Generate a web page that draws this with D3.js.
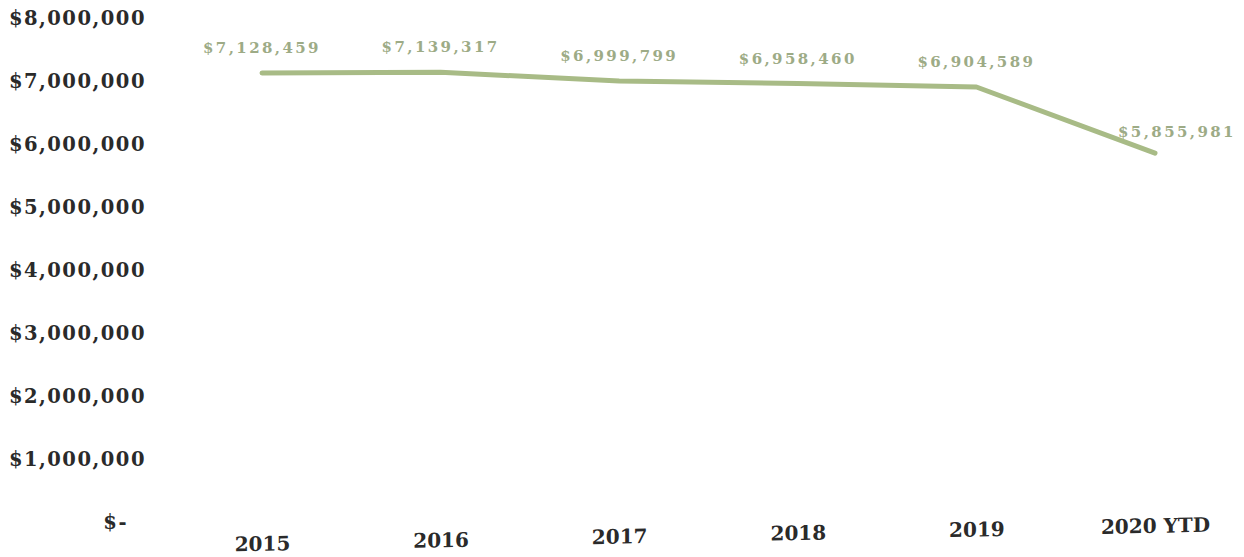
<!DOCTYPE html>
<html><head><meta charset="utf-8">
<script src="https://cdn.jsdelivr.net/npm/d3@7/dist/d3.min.js"></script>
<style>body{margin:0;background:#fff;}svg{display:block;}</style>
</head><body>
<svg id="chart" width="1244" height="557"></svg>
<script>
const categories = ["2015", "2016", "2017", "2018", "2019", "2020 YTD"];
const values = [7128459, 7139317, 6999799, 6958460, 6904589, 5855981];
const dataLabels = ["$7,128,459", "$7,139,317", "$6,999,799", "$6,958,460", "$6,904,589", "$5,855,981"];
const yTicks = [0, 1000000, 2000000, 3000000, 4000000, 5000000, 6000000, 7000000, 8000000];

const svg = d3.select("#chart");
const font = "'DejaVu Serif', 'Liberation Serif', serif";

const x = d3.scalePoint().domain(categories).range([262, 1155]);
const y = d3.scaleLinear().domain([0, 8000000]).range([522, 18]);

// Y axis labels
const yAxis = d3.axisLeft(y).tickValues(yTicks).tickSize(0).tickPadding(0)
  .tickFormat(d => d === 0 ? "$-" : "$" + d3.format(",")(d));
const yg = svg.append("g").attr("transform", "translate(146,0)").call(yAxis);
yg.select(".domain").remove();
yg.selectAll("text").attr("font-family", font).attr("font-weight", "bold")
  .attr("font-size", 19.5).attr("letter-spacing", 1.5).attr("fill", "#2a2a2a")
  .attr("text-anchor", "end").attr("dy", "0.35em");
yg.selectAll(".tick").filter(d => d === 0).select("text").attr("dx", -18);

// X axis labels (scan is slightly skewed)
const xAxis = d3.axisBottom(x).tickSize(0).tickPadding(0);
const xg = svg.append("g").attr("transform", "translate(0,549) skewY(-1.15)").call(xAxis);
xg.select(".domain").remove();
xg.selectAll("text").attr("font-family", font).attr("font-weight", "bold")
  .attr("font-size", 20).attr("fill", "#2a2a2a").attr("dy", "0.35em");

// Line
const pts = categories.map((c, i) => ({c, v: values[i], label: dataLabels[i]}));
const line = d3.line().x(d => x(d.c)).y(d => y(d.v));
svg.append("path").datum(pts).attr("d", line)
  .attr("fill", "none").attr("stroke", "#a8bb86").attr("stroke-width", 5)
  .attr("stroke-linejoin", "round").attr("stroke-linecap", "round");

// Data labels
svg.selectAll(".dl").data(pts).enter().append("text")
  .attr("class", "dl")
  .attr("x", d => x(d.c))
  .attr("y", d => y(d.v))
  .attr("dx", (d, i) => i === pts.length - 1 ? 22 : 0)
  .attr("dy", (d, i) => i === pts.length - 1 ? -16 : -20)
  .attr("text-anchor", "middle")
  .attr("font-family", font).attr("font-weight", "bold")
  .attr("font-size", 15).attr("letter-spacing", 2.4)
  .attr("fill", "#9dab86")
  .text(d => d.label);
</script>
</body></html>
